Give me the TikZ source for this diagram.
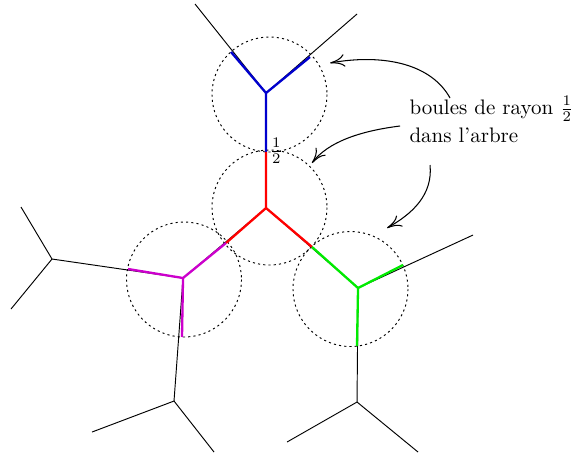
\documentclass[tikz,border=0pt]{standalone}
\usetikzlibrary{arrows.meta}

\tikzset{every picture/.style={line width=0.5pt}}
\tikzset{
  boule/.style={dash pattern={on 1pt off 1.5pt}, line width=0.45pt},
  arete/.style={line width=0.45pt},
  part/.style={line width=1.1pt},
  fleche/.style={line width=0.5pt, -{To[length=7pt,width=6pt]}}
}
\definecolor{violetb}{RGB}{204,0,204}
\definecolor{vertb}{RGB}{0,235,0}
\definecolor{bleub}{RGB}{0,0,205}

\begin{document}
\begin{tikzpicture}[x=0.75pt,y=0.75pt,yscale=-0.635,xscale=0.635]
	\useasboundingbox (0,0) rectangle (585,455);

	% sommets de l'arbre
	\coordinate (B) at (266,93);
	\coordinate (R) at (266,208);
	\coordinate (M) at (183,278);
	\coordinate (G) at (358,288);
	\coordinate (L) at (52,259);
	\coordinate (D) at (174,401);
	\coordinate (E) at (357,402);
	% feuilles
	\coordinate (f1) at (195,4);
	\coordinate (f2) at (357,14);
	\coordinate (f3) at (21,207);
	\coordinate (f4) at (11,309);
	\coordinate (f5) at (92,432);
	\coordinate (f6) at (214,452);
	\coordinate (f7) at (473,235);
	\coordinate (f8) at (287,442);
	\coordinate (f9) at (418,452);

	%Straight Lines: l'arbre
	\draw [arete] (f1) -- (B) -- (f2);
	\draw [arete] (B) -- (R) -- (M) -- (L) -- (f3);
	\draw [arete] (L) -- (f4);
	\draw [arete] (M) -- (D) -- (f5);
	\draw [arete] (D) -- (f6);
	\draw [arete] (R) -- (G) -- (f7);
	\draw [arete] (G) -- (E) -- (f8);
	\draw [arete] (E) -- (f9);

	%Shape: Circle (boules)
	\draw [boule] (269.5,94.5) circle (57.5);
	\draw [boule] (269.5,207.5) circle (57.5);
	\draw [boule] (184,279.5) circle (57.5);
	\draw [boule] (350.5,289) circle (57.5);

	% boule bleue
	\draw [part, bleub] (231,52) -- (B) -- (310,57);
	\draw [part, bleub] (B) -- (266,152);
	% boule rouge
	\draw [part, red] (266,152) -- (R) -- (226,243);
	\draw [part, red] (R) -- (312,247);
	% boule violette
	\draw [part, violetb] (226,243) -- (M) -- (128,269);
	\draw [part, violetb] (M) -- (182,337);
	% boule verte
	\draw [part, vertb] (312,247) -- (G) -- (403,265);
	\draw [part, vertb] (G) -- (357,346);

	% Text Node
	\node [anchor=west, inner sep=1pt] (demi) at (267,151) {$\frac{1}{2}$};
	% Text Node
	\node [anchor=north west, align=left, inner sep=0pt] (legende) at (409,96)
		{boules de rayon $\frac{1}{2}$\\[1.3pt] dans l'arbre};

	% fleches
	\coordinate (a1) at (450,98);
	\coordinate (a2) at (400,126);
	\coordinate (a3) at (430,165);
	\coordinate (b1) at (330,63);
	\coordinate (b2) at (312,163);
	\coordinate (b3) at (387,228);
	\draw [fleche] (a1) .. controls (430,62) and (380,54) .. (b1);
	\draw [fleche] (a2) .. controls (360,131) and (328,142) .. (b2);
	\draw [fleche] (a3) .. controls (433,195) and (412,214) .. (b3);

\end{tikzpicture}
\end{document}
